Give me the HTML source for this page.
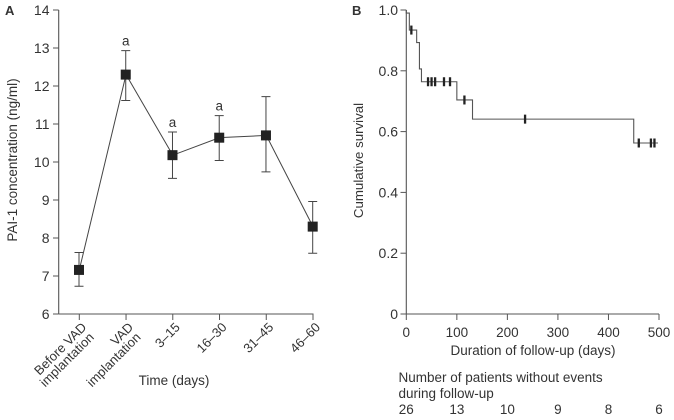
<!DOCTYPE html>
<html lang="en">
<head>
<meta charset="utf-8">
<title>PAI-1 concentration and cumulative survival</title>
<style>
html,body{margin:0;padding:0;background:#fff;width:674px;height:420px;overflow:hidden}
svg{display:block}
text{font-family:"Liberation Sans",Arial,sans-serif;font-size:13.5px;fill:#333}
</style>
</head>
<body>
<svg id="fig" width="674" height="420" viewBox="0 0 674 420" xmlns="http://www.w3.org/2000/svg">
<text x="5" y="15" style="font-weight:bold;font-size:13px">A</text>
<text x="352" y="15" style="font-weight:bold;font-size:13px">B</text>
<text transform="translate(17,160) rotate(-90)" text-anchor="middle">PAI-1 concentration (ng/ml)</text>
<text x="174" y="385" text-anchor="middle">Time (days)</text>
<text transform="translate(363,160.5) rotate(-90)" text-anchor="middle" style="font-size:13.3px">Cumulative survival</text>
<text x="533" y="355" text-anchor="middle">Duration of follow-up (days)</text>
<text x="398.5" y="382">Number of patients without events</text>
<text x="398.5" y="398">during follow-up</text>
</svg>
<script>
// Panel A data
const timeCategories = [["Before VAD","implantation"],["VAD","implantation"],["3–15"],["16–30"],["31–45"],["46–60"]];
const paiMean = [7.16,12.3,10.18,10.64,10.7,8.3];
const paiUpper = [7.62,12.93,10.79,11.22,11.72,8.96];
const paiLower = [6.73,11.62,9.57,10.04,9.74,7.6];
const paiMarkers = ["","a","a","a","",""];
const paiTicks = [6,7,8,9,10,11,12,13,14];

// Panel B data
const stepDays = [0,6,20.5,26,30,100,131,450,498];
const stepSurvival = [0.99,0.934,0.893,0.806,0.764,0.704,0.641,0.5625,0.5625];
const censorDays = [10,43,50,57,74.6,86.5,115,235,460,484,491];
const survivalTicks = [0,0.2,0.4,0.6,0.8,1.0];
const survivalTickLabels = ["0","0.2","0.4","0.6","0.8","1.0"];
const dayTicks = [0,100,200,300,400,500];
const atRiskCounts = [26,13,10,9,8,6];

const svg = document.getElementById('fig');
const NS = 'http://www.w3.org/2000/svg';
function mk(tag, attrs, text){
  const el = document.createElementNS(NS, tag);
  for (const k in attrs) el.setAttribute(k, attrs[k]);
  if (text !== undefined) el.textContent = text;
  svg.appendChild(el);
  return el;
}
const AXIS = '#555';
const INK = '#444';

// Axis functions
const ay = v => 314 - (v - 6) * 38;
const ax = i => 79.3 + i * 46.74;
const by = v => 314 - v * 304;
const bx = d => 406.3 + d * 0.5054;
function survivalAt(d){
  let s = 1;
  for (let i = 0; i < stepDays.length; i++) { if (d >= stepDays[i]) s = stepSurvival[i]; }
  return s;
}

// Panel A axes
let el;
el = mk('line',{x1:ax(0)-20.6,y1:ay(6),x2:ax(5)+0.5,y2:ay(6),stroke:AXIS,'stroke-width':1.1});


el = mk('line',{x1:58.7,y1:ay(14),x2:58.7,y2:ay(6),stroke:AXIS,'stroke-width':1.1});


paiTicks.forEach(v => {
  let t = mk('line',{x1:53,y1:ay(v),x2:58.7,y2:ay(v),stroke:AXIS,'stroke-width':1});
  
  
  let l = mk('text',{x:49.5,y:ay(v)+5,'text-anchor':'end',style:'font-size:14px'},String(v));
  
  
});
timeCategories.forEach((lines,i) => {
  let t = mk('line',{x1:ax(i),y1:314,x2:ax(i),y2:320,stroke:AXIS,'stroke-width':1});
  
  
  lines.forEach((s,j) => {
    const px = ax(i) + 8 + j * 7.5;
    const py = 328 + j * 10;
    let l = mk('text',{'text-anchor':'end',transform:`translate(${px},${py}) rotate(-45)`,style:'font-size:13px'},s);
    
    
  });
});

// Panel A series
let line = mk('polyline',{points:paiMean.map((v,i)=>ax(i)+','+ay(v)).join(' '),fill:'none',stroke:INK,'stroke-width':1});


paiMean.forEach((v,i) => {
  const x = ax(i)-0.3;
  let e = mk('path',{d:`M${x-4.5} ${ay(paiUpper[i])}H${x+4.5}M${x} ${ay(paiUpper[i])}V${ay(paiLower[i])}M${x-4.5} ${ay(paiLower[i])}H${x+4.5}`,fill:'none',stroke:INK,'stroke-width':1});
  
  
  let m = mk('rect',{x:x-5,y:ay(v)-5,width:10,height:10,fill:'#222'});
  
  
  if (paiMarkers[i]) {
    let a = mk('text',{x:x,y:ay(paiUpper[i])-5,'text-anchor':'middle'},paiMarkers[i]);
    
    
  }
});

// Panel B axes
el = mk('line',{x1:bx(0),y1:by(1),x2:bx(0),y2:by(0),stroke:AXIS,'stroke-width':1.1});


el = mk('line',{x1:bx(0),y1:by(0),x2:bx(500),y2:by(0),stroke:AXIS,'stroke-width':1.1});


survivalTicks.forEach((v,i) => {
  let t = mk('line',{x1:400.5,y1:by(v),x2:bx(0),y2:by(v),stroke:AXIS,'stroke-width':1});
  
  
  let l = mk('text',{x:398,y:by(v)+5,'text-anchor':'end',style:'font-size:14px'},survivalTickLabels[i]);
  
  
});
dayTicks.forEach((d,i) => {
  let t = mk('line',{x1:bx(d),y1:by(0),x2:bx(d),y2:320,stroke:AXIS,'stroke-width':1});
  
  
  let l = mk('text',{x:bx(d),y:337,'text-anchor':'middle',style:'font-size:13.5px'},String(d));
  
  
  let c = mk('text',{x:bx(d),y:414,'text-anchor':'middle',style:'font-size:13.5px'},String(atRiskCounts[i]));
  
  
});

// Panel B step curve
let d = `M${bx(0)} ${by(1)}`;
stepDays.forEach((day,i) => {
  d += `H${bx(day)}V${by(stepSurvival[i])}`;
});
let curve = mk('path',{d:d,fill:'none',stroke:'#555','stroke-width':1.1});


censorDays.forEach(day => {
  const s = survivalAt(day);
  let c = mk('line',{x1:bx(day),y1:by(s)-4.5,x2:bx(day),y2:by(s)+4.5,stroke:'#222','stroke-width':2.3});
  
  
});
</script>
</body>
</html>
